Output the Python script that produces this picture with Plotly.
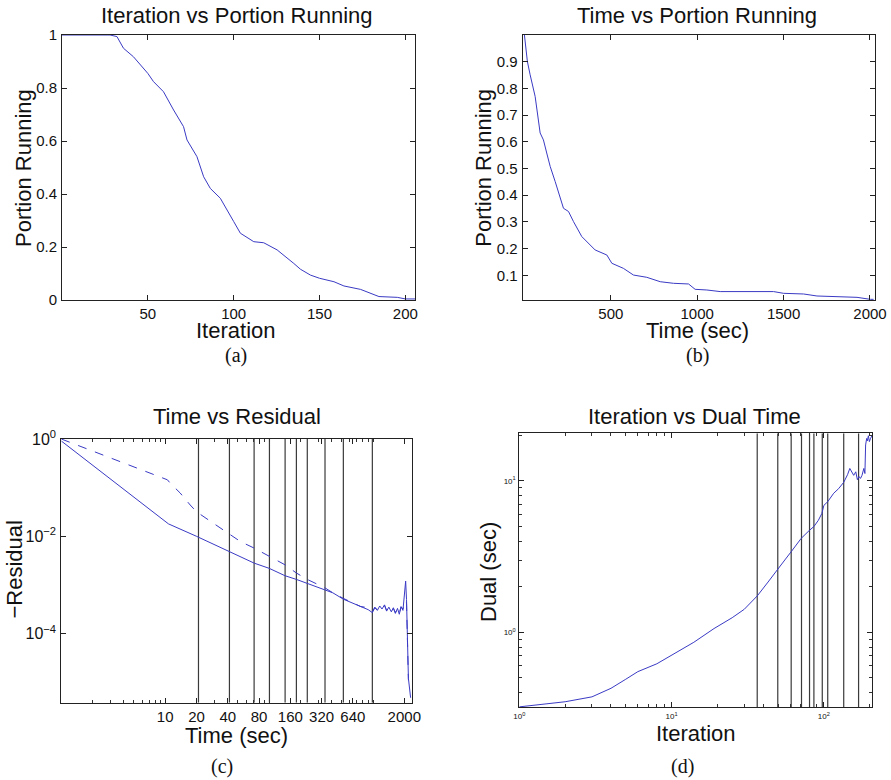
import plotly.graph_objects as go

# ---------------- data ----------------
# (a) Iteration vs Portion Running
iter_a = [0, 10, 20, 28, 32, 35.8, 41.6, 47.5, 50, 53.3, 59.1, 65, 70.8, 72.8, 78.6, 82.5, 86.4,
          92.2, 98.1, 100, 103.9, 111.7, 117.5, 125.3, 135, 138.9, 144.7, 150, 158.4, 164.2,
          173.9, 179.8, 184.6, 195.3, 200, 205.6]
portion_a = [1.0, 1.0, 1.0, 1.0, 0.994, 0.95, 0.918, 0.874, 0.855, 0.824, 0.786, 0.717, 0.654,
             0.604, 0.541, 0.465, 0.421, 0.384, 0.321, 0.296, 0.252, 0.220, 0.216, 0.189, 0.138,
             0.116, 0.094, 0.082, 0.069, 0.053, 0.040, 0.025, 0.013, 0.010, 0.004, 0.004]

# (b) Time vs Portion Running
time_b = [0, 17, 33, 62, 91, 110, 129, 149, 178, 207, 226, 255, 284, 332, 371, 409, 477, 506,
          573, 631, 708, 786, 863, 950, 988, 1056, 1133, 1442, 1500, 1616, 1693, 1925, 2002, 2021]
portion_b = [1.0, 0.901, 0.851, 0.77, 0.633, 0.607, 0.558, 0.508, 0.451, 0.395, 0.351, 0.339,
             0.301, 0.245, 0.22, 0.195, 0.176, 0.145, 0.126, 0.101, 0.0925, 0.076, 0.07, 0.0675,
             0.0475, 0.045, 0.039, 0.039, 0.0325, 0.03, 0.0225, 0.0175, 0.01, 0.01]

# (c) Time vs Residual (two runs)
time_c_solid = [1, 10.75, 20, 40, 72, 100, 142, 183, 233, 345, 410, 518, 600, 680, 760, 830,
                900, 985, 1040, 1100, 1160, 1220, 1290, 1350, 1420, 1500, 1570, 1640, 1720, 1790,
                1860, 1940, 1990, 2030, 2060, 2100, 2190, 2300]
resid_c_solid = [0.91, 0.018, 0.0100, 0.0051, 0.0028, 0.0022, 0.00155, 0.0013, 0.00107, 0.00077,
                 0.00069, 0.00051, 0.00045, 0.00040, 0.00037, 0.00034, 0.00031, 0.00027, 0.00034,
                 0.00030, 0.00037, 0.00032, 0.00039, 0.00029, 0.00035, 0.00028, 0.00034, 0.00026,
                 0.00033, 0.00025, 0.00036, 0.00030, 0.00050, 0.00068, 0.0012, 0.00050, 0.000012,
                 0.0000048]
time_c_dash = [1, 10.5, 11.2, 13.9, 17.4, 20, 29, 40, 53, 72, 100, 142, 183, 233, 345, 410, 518,
               600, 680, 760, 830, 900, 985, 1040, 1100, 1160, 1220, 1290, 1350, 1420, 1500, 1570,
               1640, 1720, 1790, 1860, 1940, 2000, 2060, 2100, 2190]
resid_c_dash = [1.0, 0.145, 0.123, 0.078, 0.044, 0.032, 0.0186, 0.0116, 0.0078, 0.0057, 0.0039,
                0.0026, 0.00176, 0.0013, 0.00087, 0.00069, 0.00053, 0.00046, 0.00041, 0.00036,
                0.00035, 0.00030, 0.00028, 0.00035, 0.00031, 0.00036, 0.00033, 0.00038, 0.00030,
                0.00036, 0.00029, 0.00033, 0.00027, 0.00032, 0.00026, 0.00035, 0.00032, 0.00045,
                0.00048, 0.00043, 0.000011]
vlines_c = [20.9, 41.5, 71.7, 100.7, 142.5, 183, 233, 345, 518, 985]
xticks_c = [10, 20, 40, 80, 160, 320, 640, 2000]

# (d) Iteration vs Dual Time
iter_d = [1, 2, 3, 4, 5, 6, 8, 10, 14, 19, 25, 30, 36.5, 43, 50, 56, 61, 71, 80, 86, 92, 97,
          100, 106, 116, 125, 135, 143, 148, 153, 157, 162, 166, 170, 174, 178, 183, 186, 188,
          191, 193, 196, 199, 202, 205, 208]
dual_d = [0.322, 0.348, 0.375, 0.427, 0.49, 0.55, 0.62, 0.708, 0.86, 1.06, 1.25, 1.42, 1.74,
          2.15, 2.65, 3.05, 3.41, 4.18, 4.7, 5.0, 5.5, 6.1, 6.9, 7.3, 8.3, 8.9, 9.8, 11.0, 12.1,
          11.4, 10.9, 11.5, 10.2, 10.7, 10.4, 10.9, 12.1, 11.2, 17.3, 19.1, 18.4, 19.9, 18.2,
          19.0, 19.6, 20.1]
vlines_d = [36.5, 49.8, 61, 71.3, 80.5, 86, 97.6, 106, 135, 169]

# ---------------- figure ----------------
W, H = 891, 780
LINE = "#3a3ac4"
VCOL = "#3a3a3a"
SANS = "Liberation Sans, Arial, Helvetica, sans-serif"
SERIF = "Liberation Serif, Times New Roman, serif"

fig = go.Figure()


def vline_xy(vals, ylo, yhi):
    xs, ys = [], []
    for v in vals:
        xs += [v, v, None]
        ys += [ylo, yhi, None]
    return xs, ys


# (a)
fig.add_trace(go.Scatter(x=iter_a, y=portion_a, mode="lines", line=dict(color=LINE, width=1),
                         xaxis="x", yaxis="y", showlegend=False))
# (b)
fig.add_trace(go.Scatter(x=time_b, y=portion_b, mode="lines", line=dict(color=LINE, width=1),
                         xaxis="x2", yaxis="y2", showlegend=False))
# (c)
yc_lo, yc_hi = 10 ** -5.42, 1.0
vx, vy = vline_xy(vlines_c, yc_lo, yc_hi)
fig.add_trace(go.Scatter(x=vx, y=vy, mode="lines", line=dict(color=VCOL, width=1.2),
                         xaxis="x3", yaxis="y3", showlegend=False, connectgaps=False))
fig.add_trace(go.Scatter(x=time_c_dash, y=resid_c_dash, mode="lines",
                         line=dict(color=LINE, width=1, dash="dash"),
                         xaxis="x3", yaxis="y3", showlegend=False))
fig.add_trace(go.Scatter(x=time_c_solid, y=resid_c_solid, mode="lines",
                         line=dict(color=LINE, width=1),
                         xaxis="x3", yaxis="y3", showlegend=False))
# (d)
yd_lo, yd_hi = 0.32, 20.7
vx, vy = vline_xy(vlines_d, yd_lo, yd_hi)
fig.add_trace(go.Scatter(x=vx, y=vy, mode="lines", line=dict(color=VCOL, width=1.2),
                         xaxis="x4", yaxis="y4", showlegend=False, connectgaps=False))
fig.add_trace(go.Scatter(x=iter_d, y=dual_d, mode="lines", line=dict(color=LINE, width=1),
                         xaxis="x4", yaxis="y4", showlegend=False))


def px_x(p):
    return p / W


def px_y(p):
    return 1 - p / H


def ax(domain, anchor, fs=15, standoff=1, **kw):
    d = dict(domain=domain, anchor=anchor, showline=True, linecolor="#222", linewidth=1,
             mirror="allticks", ticks="inside", ticklen=5, tickcolor="#222", showgrid=False,
             zeroline=False, automargin=False,
             tickfont=dict(family=SANS, size=fs, color="#111"), ticklabelstandoff=standoff)
    d.update(kw)
    return d


minor_tick = dict(ticks="inside", ticklen=3, tickcolor="#333", showgrid=False)

layout = dict(
    template="none",
    width=W, height=H, margin=dict(l=0, r=0, t=0, b=0, autoexpand=False),
    paper_bgcolor="white", plot_bgcolor="white",
    xaxis=ax([px_x(62), px_x(415)], "y", standoff=0, range=[0, 205.6],
             tickvals=[50, 100, 150, 200]),
    yaxis=ax([px_y(300), px_y(35)], "x", range=[0, 1], tickvals=[0, 0.2, 0.4, 0.6, 0.8, 1],
             ticktext=["0", "0.2", "0.4", "0.6", "0.8", "1"]),
    xaxis2=ax([px_x(522.7), px_x(875)], "y2", standoff=0, range=[-10, 2029],
              tickvals=[500, 1000, 1500, 2000]),
    yaxis2=ax([px_y(300), px_y(35)], "x2", range=[0.0075, 1.0],
              tickvals=[0.1, 0.2, 0.3, 0.4, 0.5, 0.6, 0.7, 0.8, 0.9]),
    xaxis3=ax([px_x(61.3), px_x(412)], "y3", standoff=0, type="log", range=[0, 3.375],
              tickvals=xticks_c, ticktext=[str(v) for v in xticks_c],
              minor=dict(minor_tick, dtick="D1")),
    yaxis3=ax([px_y(702.7), px_y(439)], "x3", fs=16, type="log", range=[-5.42, 0],
              tickvals=[1, 1e-2, 1e-4],
              ticktext=["10<sup>0</sup>", "10<sup>\u22122</sup>", "10<sup>\u22124</sup>"]),
    xaxis4=ax([px_x(519.3), px_x(872.3)], "y4", fs=8, type="log", range=[0, 2.318],
              tickvals=[1, 10, 100],
              ticktext=["10<sup>0</sup>", "10<sup>1</sup>", "10<sup>2</sup>"],
              minor=dict(minor_tick, dtick="D1")),
    yaxis4=ax([px_y(707.3), px_y(433.3)], "x4", fs=8, type="log", range=[-0.495, 1.315],
              tickvals=[1, 10],
              ticktext=["10<sup>0</sup>", "10<sup>1</sup>"],
              minor=dict(minor_tick, dtick="D1")),
)

annotations = []


def txt(text, x, y, size, family=SANS, angle=0):
    annotations.append(dict(text=text, x=px_x(x), y=px_y(y), xref="paper", yref="paper",
                            xanchor="center", yanchor="middle", showarrow=False,
                            textangle=angle, font=dict(family=family, size=size, color="#111")))


# titles
txt("Iteration vs Portion Running", 236.5, 15, 22)
txt("Time vs Portion Running", 696.7, 15, 22)
txt("Time vs Residual", 236.7, 416.7, 22)
txt("Iteration vs Dual Time", 694, 416.7, 22)
# x axis titles
txt("Iteration", 236, 330, 22)
txt("Time (sec)", 697, 330, 22)
txt("Time (sec)", 236.7, 735, 22)
txt("Iteration", 696, 733, 22)
# y axis titles
txt("Portion Running", 23, 168, 22, angle=-90)
txt("Portion Running", 482.7, 168, 22, angle=-90)
txt("\u2212Residual", 13.5, 570, 22, angle=-90)
txt("Dual (sec)", 488, 572, 22, angle=-90)
# captions
txt("(a)", 236, 355.5, 20, family=SERIF)
txt("(b)", 697, 355.5, 20, family=SERIF)
txt("(c)", 222, 766.5, 20, family=SERIF)
txt("(d)", 682.7, 766.5, 20, family=SERIF)

layout["annotations"] = annotations
fig.update_layout(**layout)
fig.write_html("out.html", config={"displayModeBar": False},
               post_script="document.body.style.margin='0';document.body.style.overflow='hidden';")
